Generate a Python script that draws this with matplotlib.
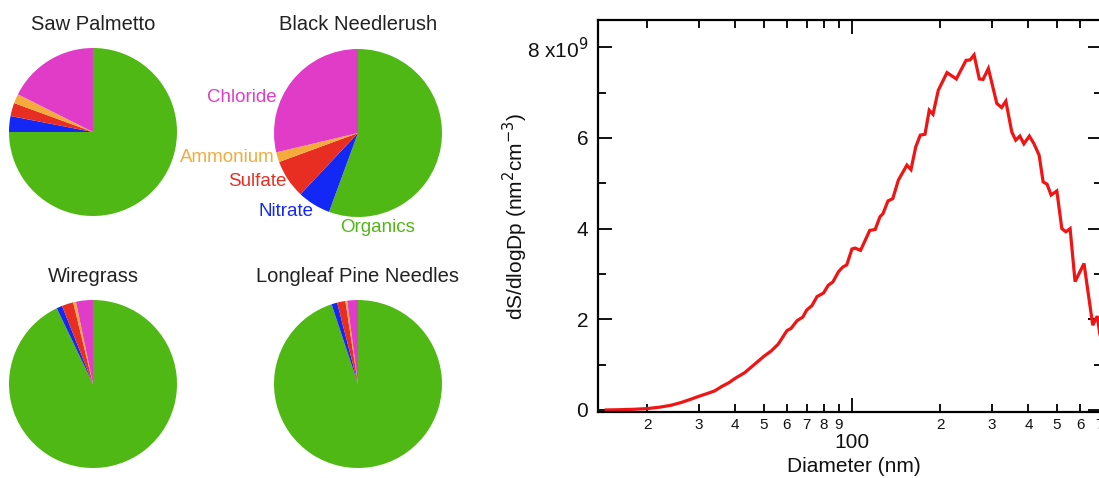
import matplotlib.pyplot as plt
from matplotlib.ticker import FixedLocator, FixedFormatter

plt.rcParams['font.family'] = ['Liberation Sans', 'DejaVu Sans']

# aerosol composition (%), clockwise from 12 o'clock
species = ['Organics', 'Nitrate', 'Sulfate', 'Ammonium', 'Chloride']
colors = ['#50b814', '#1428f5', '#e82d23', '#f5aa3c', '#e03cc8']
saw_palmetto = [75.0, 3.05, 2.55, 1.8, 17.6]
black_needlerush = [55.6, 6.4, 7.4, 1.9, 28.7]
wiregrass = [92.9, 1.1, 2.2, 0.55, 3.25]
longleaf_pine = [94.9, 1.1, 1.6, 0.35, 2.05]

# surface area size distribution (dS/dlogDp, x1e9 nm^2 cm^-3)
diameter = [14.5, 16, 18, 20, 22, 24, 26, 28, 30, 32, 34, 36, 38, 40,
            43, 46, 50, 53, 56, 60, 62, 65, 68, 70, 73, 76, 80, 83, 86,
            90, 93, 96, 100, 102.4, 107, 115, 120, 124.6, 127.6, 132.7,
            137.8, 144, 154, 159, 165, 171, 177.5, 183.5, 189, 197, 211,
            227, 245, 253, 261, 272, 280, 292, 312, 324, 335, 351, 362,
            374, 386, 403, 418, 435, 449, 463, 478, 500, 520, 537, 555,
            577, 619, 663, 687, 700, 720]
dsdlogdp = [0.0, 0.005, 0.015, 0.03, 0.06, 0.1, 0.16, 0.23, 0.3, 0.36,
            0.42, 0.52, 0.6, 0.7, 0.82, 0.98, 1.18, 1.3, 1.45, 1.75, 1.8,
            1.97, 2.05, 2.2, 2.3, 2.5, 2.58, 2.75, 2.82, 3.05, 3.15, 3.2,
            3.55, 3.57, 3.52, 3.96, 3.98, 4.26, 4.33, 4.61, 4.66, 5.07,
            5.4, 5.3, 5.8, 6.06, 6.08, 6.61, 6.52, 7.05, 7.44, 7.3, 7.71,
            7.72, 7.83, 7.3, 7.29, 7.53, 6.76, 6.67, 6.81, 6.13, 5.95,
            6.04, 5.87, 6.04, 5.87, 5.62, 5.03, 4.98, 4.74, 4.83, 4.0,
            3.93, 4.0, 2.83, 3.23, 1.87, 2.07, 1.7, 1.3]

W, H = 1099, 478
fig = plt.figure(figsize=(W / 100, H / 100), dpi=100)


def pie_at(cx, cy, values, title, r=84):
    ax = fig.add_axes([(cx - r) / W, 1 - (cy + r) / H, 2 * r / W, 2 * r / H])
    ax.pie(values, colors=colors, startangle=90, counterclock=False,
           wedgeprops=dict(linewidth=0))
    ax.set_xlim(-1, 1)
    ax.set_ylim(-1, 1)
    fig.text(cx / W, 1 - (cy - 108) / H, title, ha='center', va='center',
             fontsize=14.5, color='#222222')
    return ax


pie_at(93, 132, saw_palmetto, 'Saw Palmetto')
pie_at(358, 133, black_needlerush, 'Black Needlerush')
pie_at(93, 384, wiregrass, 'Wiregrass')
pie_at(358, 384, longleaf_pine, 'Longleaf Pine Needles')

# species labels beside the Black Needlerush pie
label_pos = {'Chloride': (242, 97), 'Ammonium': (227, 158), 'Sulfate': (257, 182),
             'Nitrate': (286, 211), 'Organics': (378, 228)}
for name, c in zip(species, colors):
    x, y = label_pos[name]
    fig.text(x / W, 1 - y / H, name, ha='center', va='center',
             fontsize=13.5, color=c)

# size distribution panel (right spine sits just past the figure edge)
ax = fig.add_axes([598 / W, 66 / H, 504 / W, 392 / H])
ax.plot(diameter, dsdlogdp, color='#f01414', lw=2.3, solid_joinstyle='miter')
ax.set_xscale('log')
ax.set_xlim(13.6, 713)
ax.set_ylim(-0.045, 8.6)

major_x = [100]
minor_x = [20, 30, 40, 50, 60, 70, 80, 90, 200, 300, 400, 500, 600, 700]
ax.xaxis.set_major_locator(FixedLocator(major_x))
ax.xaxis.set_major_formatter(FixedFormatter(['100']))
ax.xaxis.set_minor_locator(FixedLocator(minor_x))
ax.xaxis.set_minor_formatter(FixedFormatter([str(v)[0] for v in minor_x]))

ax.set_yticks([0, 2, 4, 6, 8])
ax.set_yticklabels(['0', '2', '4', '6', '8 x10$^9$'])
ax.set_yticks([1, 3, 5, 7], minor=True)

for s in ax.spines.values():
    s.set_linewidth(1.6)
ax.tick_params(which='both', direction='in', top=True, right=True,
               width=1.4, colors='#111111')
ax.tick_params(which='major', length=10)
ax.tick_params(which='minor', length=6)
ax.tick_params(axis='y', which='major', labelsize=15, pad=7)
ax.tick_params(axis='x', which='major', labelsize=15, pad=15)
ax.tick_params(axis='x', which='minor', labelsize=11, pad=4)

fig.text(515 / W, 1 - 216 / H, 'dS/dlogDp (nm$^2$cm$^{-3}$)', rotation=90,
         ha='center', va='center', fontsize=15, color='#111111')
fig.text(854 / W, 1 - 466 / H, 'Diameter (nm)', ha='center', va='center',
         fontsize=15, color='#111111')

fig.savefig('out.png', dpi=100)
